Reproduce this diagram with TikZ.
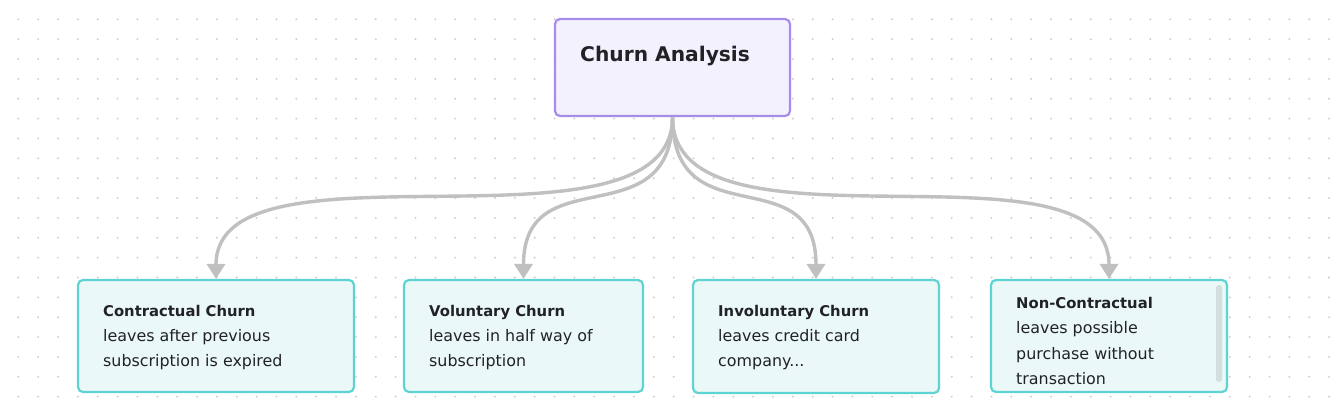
\documentclass[tikz,border=0pt]{standalone}
\usepackage{fontspec}
\setmainfont{DejaVu Sans}
\usetikzlibrary{arrows.meta}
\definecolor{dotc}{HTML}{CFCFCF}
\definecolor{rootfill}{HTML}{F3F1FD}
\definecolor{rootdraw}{HTML}{A68CEB}
\definecolor{kidfill}{HTML}{EBF8F8}
\definecolor{kiddraw}{HTML}{5ED4D2}
\definecolor{edgec}{HTML}{C0C0C0}
\definecolor{txt}{HTML}{222226}
\definecolor{scrollc}{HTML}{D3DEDE}
\tikzset{
  rootbox/.style={draw=rootdraw, fill=rootfill, line width=2.2pt, rounded corners=5pt, inner sep=0pt},
  kidbox/.style={draw=kiddraw, fill=kidfill, line width=2.2pt, rounded corners=5pt, inner sep=0pt, minimum height=112pt},
  edge/.style={draw=edgec, line width=3.4pt, -{Triangle[width=18pt,length=15pt]}},
  head/.style={anchor=base west, inner sep=0pt, text=txt, font=\fontsize{14.8}{18}\selectfont\bfseries},
  body/.style={anchor=base west, inner sep=0pt, text=txt, font=\fontsize{15.9}{19}\selectfont},
}
\begin{document}
\begin{tikzpicture}[x=1pt,y=-1pt]
\useasboundingbox (0,0) rectangle (1332,415);
\fill[white] (0,0) rectangle (1332,415);
\foreach \i in {0,...,66} {
  \foreach \j in {0,...,19} {
    \fill[dotc] ({18.3+19.86*\i},{19.3+19.86*\j}) circle (1.1);
  }
}
% boxes
\node[rootbox, minimum width=235pt, minimum height=97pt] (root) at (672.5,67.5) {};
\node[kidbox, minimum width=276pt] (k1) at (216,336) {};
\node[kidbox, minimum width=239pt] (k2) at (523.5,336) {};
\node[kidbox, minimum width=246pt, minimum height=113pt] (k3) at (816,336.5) {};
\node[kidbox, minimum width=236pt] (k4) at (1109,336) {};
\fill[scrollc, rounded corners=3pt] (1216,285) rectangle (1222,382);
% texts
\node[anchor=base west, inner sep=0pt, text=txt, font=\fontsize{20.2}{25}\selectfont\bfseries] (rt) at (580,61) {Churn Analysis};
\node[head] (h1) at (103,316) {Contractual Churn};
\node[body] (a1) at (103,341) {leaves after previous};
\node[body] (b1) at (103,366) {subscription is expired};
\node[head] (h2) at (429,316) {Voluntary Churn};
\node[body] (a2) at (429,341) {leaves in half way of};
\node[body] (b2) at (429,366) {subscription};
\node[head] (h3) at (718,316) {Involuntary Churn};
\node[body] (a3) at (718,341) {leaves credit card};
\node[body] (b3) at (718,366) {company...};
\node[head] (h4) at (1016,308) {Non-Contractual};
\node[body] (a4) at (1016,333) {leaves possible};
\node[body] (b4) at (1016,359) {purchase without};
\node[body] (c4) at (1016,384) {transaction};
% edges
\draw[edge] (root.south) .. controls +(0,150) and +(0,-150) .. (k1.north);
\draw[edge] (root.south) .. controls +(0,123) and +(0,-123) .. (k2.north);
\draw[edge] (root.south) .. controls +(0,123) and +(0,-123) .. (k3.north);
\draw[edge] (root.south) .. controls +(0,150) and +(0,-150) .. (k4.north);
\end{tikzpicture}
\end{document}
